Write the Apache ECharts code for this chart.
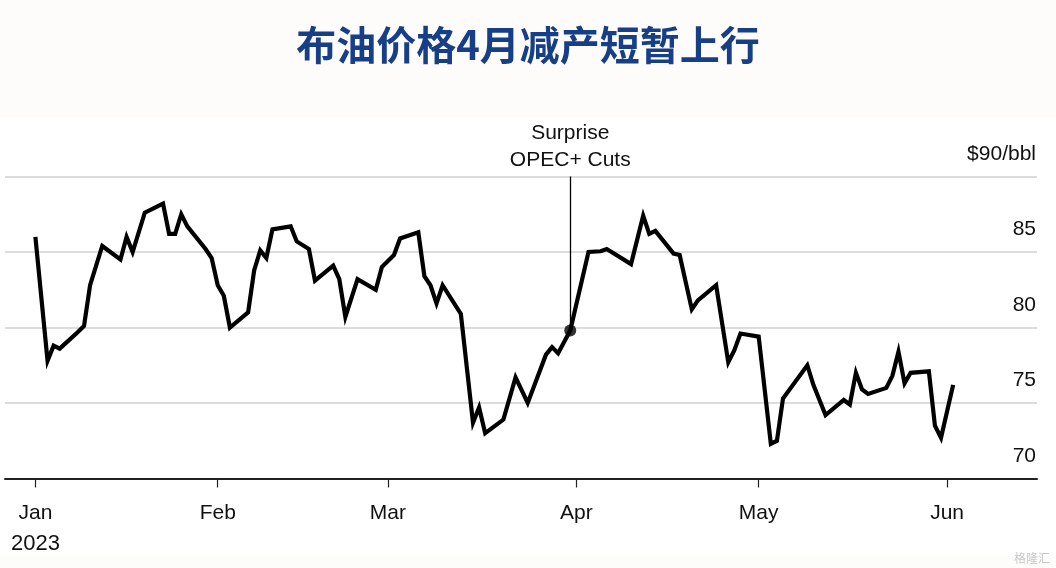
<!DOCTYPE html>
<html>
<head>
<meta charset="utf-8">
<script src="https://cdn.jsdelivr.net/npm/echarts@6/dist/echarts.min.js"></script>
<style>
html,body{margin:0;padding:0;background:#fff;}
#chart{width:1056px;height:568px;}
</style>
</head>
<body>
<div id="chart"></div>
<script>
const titleText = '布油价格4月减产短暂上行';
const unitLabel = '$90/bbl';
const annotationText = 'Surprise\nOPEC+ Cuts';
const annotationDate = '2023-03-31';
const annotationValue = 79.8;

const dates = ['2023-01-02','2023-01-04','2023-01-05','2023-01-06','2023-01-09','2023-01-10','2023-01-11','2023-01-13','2023-01-16','2023-01-17','2023-01-18','2023-01-20','2023-01-23','2023-01-24','2023-01-25','2023-01-26','2023-01-27','2023-01-30','2023-01-31',
'2023-02-01','2023-02-02','2023-02-03','2023-02-06','2023-02-07','2023-02-08','2023-02-09','2023-02-10','2023-02-13','2023-02-14','2023-02-16','2023-02-17','2023-02-20','2023-02-21','2023-02-22','2023-02-24','2023-02-27','2023-02-28',
'2023-03-01','2023-03-02','2023-03-03','2023-03-06','2023-03-07','2023-03-08','2023-03-09','2023-03-10','2023-03-13','2023-03-15','2023-03-16','2023-03-17','2023-03-20','2023-03-22','2023-03-24','2023-03-27','2023-03-28','2023-03-29','2023-03-31',
'2023-04-03','2023-04-05','2023-04-06','2023-04-10','2023-04-12','2023-04-13','2023-04-14','2023-04-17','2023-04-18','2023-04-20','2023-04-21','2023-04-24','2023-04-26','2023-04-27','2023-04-28',
'2023-05-01','2023-05-03','2023-05-04','2023-05-05','2023-05-09','2023-05-10','2023-05-12','2023-05-15','2023-05-16','2023-05-17','2023-05-18','2023-05-19','2023-05-22','2023-05-23','2023-05-24','2023-05-25','2023-05-26','2023-05-29','2023-05-30','2023-05-31',
'2023-06-02'];

const prices = [86.0,77.8,78.8,78.6,79.7,80.1,82.8,85.4,84.5,86.0,85.0,87.6,88.2,86.2,86.2,87.5,86.7,85.2,84.6,
82.8,82.1,80.0,81.0,83.8,85.1,84.6,86.5,86.7,85.7,85.2,83.1,84.1,83.2,80.7,83.2,82.5,84.0,
84.4,84.8,85.9,86.3,83.4,82.8,81.6,82.8,80.9,73.7,74.7,73.0,73.9,76.7,75.0,78.2,78.7,78.3,79.8,
85.0,85.05,85.2,84.2,87.4,86.2,86.4,84.9,84.8,81.2,81.8,82.8,77.7,78.5,79.6,
79.4,72.3,72.5,75.3,77.5,76.2,74.2,75.2,74.9,77.0,75.9,75.6,76.0,76.8,78.4,76.3,77.0,77.1,73.5,72.7,
76.2];

const monthTickDates = ['2023-01-02','2023-02-01','2023-03-01','2023-04-01','2023-05-01','2023-06-01'];
const monthTickLabels = ['Jan','Feb','Mar','Apr','May','Jun'];
const yearLabel = '2023';

const DAY = 86400000;
const ts = d => new Date(d + 'T00:00:00Z').getTime();
const tickTs = monthTickDates.map(ts);
const lineData = dates.map((d,i) => [ts(d), prices[i]]);

const chart = echarts.init(document.getElementById('chart'), null, {renderer:'canvas'});
const font = '"Liberation Sans", Arial, Helvetica, sans-serif';

chart.setOption({
  animation:false,
  backgroundColor:'#ffffff',
  graphic:[
    {type:'rect', shape:{x:0,y:0,width:1056,height:117}, style:{fill:'#fefbfb'}, silent:true, z:-10},
    {type:'rect', shape:{x:0,y:556,width:1056,height:12}, style:{fill:'#fefbfb'}, silent:true, z:-10},
    {type:'text', right:6, bottom:4, style:{text:'格隆汇', fill:'#c8c8c8', font:'12px "Noto Sans CJK SC"'}, silent:true}
  ],
  title:{
    text:titleText,
    left:'center',
    top:20,
    textStyle:{fontFamily:'"Noto Sans CJK SC", sans-serif', fontSize:40, fontWeight:'bold', color:'#163f88'}
  },
  grid:{left:5, right:19, top:176.5, bottom:89.5, containLabel:false},
  xAxis:{
    type:'value',
    min:ts('2022-12-28'),
    max:ts('2023-06-15') + 19*3600*1000,
    axisLine:{show:true, onZero:false, lineStyle:{color:'#222', width:2}},
    axisTick:{show:true, inside:false, length:9, customValues:tickTs, lineStyle:{color:'#222', width:1.2}},
    axisLabel:{
      customValues:tickTs,
      showMinLabel:true, showMaxLabel:true,
      margin:20,
      fontFamily:font, fontSize:21, color:'#111',
      formatter:function(v){
        let idx = -1;
        for (let i = 0; i < tickTs.length; i++) { if (Math.abs(tickTs[i] - v) < DAY/2) idx = i; }
        const name = idx >= 0 ? monthTickLabels[idx] : '';
        return idx === 0 ? '{m|' + name + '}\n{y|' + yearLabel + '}' : '{m|' + name + '}';
      },
      rich:{
        m:{fontFamily:font, fontSize:21, color:'#111', lineHeight:30},
        y:{fontFamily:font, fontSize:22, color:'#111', lineHeight:30}
      }
    },
    splitLine:{show:false}
  },
  yAxis:{
    type:'value',
    position:'right',
    min:70, max:90, interval:5,
    axisLine:{show:false},
    axisTick:{show:false},
    splitLine:{show:true, lineStyle:{color:'#dcdcdc', width:2}},
    axisLabel:{
      inside:true,
      margin:1,
      align:'right',
      verticalAlign:'bottom',
      padding:[0,0,12,0],
      fontFamily:font, fontSize:21, color:'#111',
      formatter:function(v){ return v === 90 ? unitLabel : String(v); }
    }
  },
  series:[
    {
      type:'line',
      data:lineData,
      showSymbol:false,
      symbol:'none',
      lineStyle:{color:'#000', width:4.2, join:'miter', cap:'butt'},
      z:3,
      markLine:{
        silent:true,
        symbol:['none','none'],
        lineStyle:{color:'#000', width:1.3, type:'solid'},
        label:{
          show:true, position:'end', distance:3,
          formatter:annotationText,
          fontFamily:font, fontSize:21, lineHeight:27, color:'#111', align:'center'
        },
        data:[[{coord:[ts(annotationDate), annotationValue]},{coord:[ts(annotationDate), 90]}]]
      }
    },
    {
      type:'scatter',
      data:[[ts(annotationDate), annotationValue]],
      symbol:'circle',
      symbolSize:12,
      itemStyle:{color:'#000'},
      z:4
    }
  ]
});
</script>
</body>
</html>
